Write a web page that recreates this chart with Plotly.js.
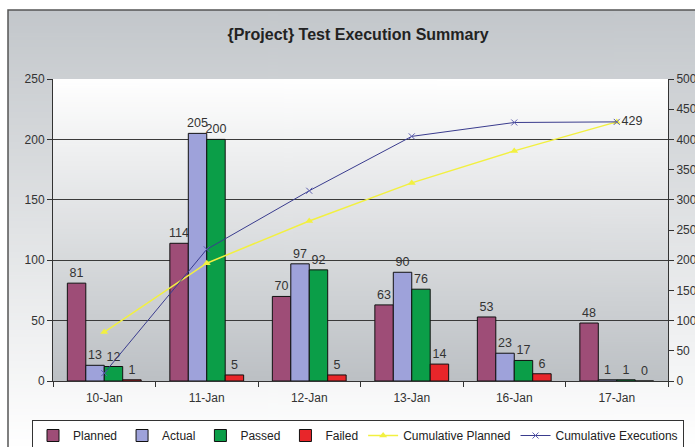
<!DOCTYPE html>
<html>
<head>
<meta charset="utf-8">
<script src="https://cdn.plot.ly/plotly-3.0.1.min.js"></script>
<style>html,body{margin:0;padding:0;background:#fff;}#chart{width:695px;height:447px;}</style>
</head>
<body>
<div id="chart"></div>
<script>
const categories = ['10-Jan','11-Jan','12-Jan','13-Jan','16-Jan','17-Jan'];
const planned = [81,114,70,63,53,48];
const actual = [13,205,97,90,23,1];
const passed = [12,200,92,76,17,1];
const failed = [1,5,5,14,6,0];
const cumulativePlanned = [81,195,265,328,381,429];
const cumulativeExecutions = [13,218,315,405,428,429];
const leftTicks = [0,50,100,150,200,250];
const rightTicks = [0,50,100,150,200,250,300,350,400,450,500];

function grad(c1, c2) {
  const cv = document.createElement('canvas');
  cv.width = 4; cv.height = 256;
  const ctx = cv.getContext('2d');
  const g = ctx.createLinearGradient(0, 0, 0, 256);
  g.addColorStop(0, c1); g.addColorStop(1, c2);
  ctx.fillStyle = g; ctx.fillRect(0, 0, 4, 256);
  return cv.toDataURL();
}

// pixel -> paper helpers (plot area: x 53..668, y 79..381)
const L = 53, R = 668, T = 79, B = 381;
const px = p => (p - L) / (R - L);
const py = p => (B - p) / (B - T);

const labelFont = {family: 'Liberation Sans, Arial, sans-serif', size: 12.5, color: '#333'};

function barTrace(name, vals, color) {
  return {
    type: 'bar', name: name, x: categories, y: vals,
    marker: {color: color, line: {color: '#111', width: 1}},
    text: vals.map(String), textposition: 'outside', constraintext: 'none',
    cliponaxis: false, textfont: labelFont,
    hoverinfo: 'skip'
  };
}

const data = [
  barTrace('Planned', planned, '#9e4d77'),
  barTrace('Actual', actual, '#9ea2da'),
  barTrace('Passed', passed, '#0b9e48'),
  barTrace('Failed', failed, '#e8262a'),
  {
    type: 'scatter', mode: 'lines+markers', name: 'Cumulative Planned',
    x: categories, y: cumulativePlanned, yaxis: 'y2',
    line: {color: '#f2f040', width: 1.5},
    marker: {symbol: 'triangle-up', size: 7, color: '#f2f040'},
    cliponaxis: false, hoverinfo: 'skip'
  },
  {
    type: 'scatter', mode: 'lines+markers+text', name: 'Cumulative Executions',
    x: categories, y: cumulativeExecutions, yaxis: 'y2',
    line: {color: '#3a3c8e', width: 1},
    marker: {symbol: 'x-thin', size: 6, line: {color: '#5a5cae', width: 1}},
    text: cumulativeExecutions.map((v, i) => i === cumulativeExecutions.length - 1 ? String(v) : ''),
    textposition: 'middle right', textfont: labelFont,
    cliponaxis: false, hoverinfo: 'skip'
  }
];

const font = {family: 'Liberation Sans, Arial, sans-serif', size: 12, color: '#333'};

const layout = {
  width: 695, height: 447,
  margin: {l: L, r: 695 - R, t: T, b: 447 - B, pad: 0, autoexpand: false},
  paper_bgcolor: '#ffffff',
  plot_bgcolor: 'rgba(0,0,0,0)',
  font: font,
  showlegend: true,
  title: {
    text: '<b>{Project} Test Execution Summary</b>',
    font: {family: 'Liberation Sans, Arial, sans-serif', size: 16, color: '#222'},
    x: 358 / 695, xanchor: 'center', y: 1 - 34 / 447, yanchor: 'middle'
  },
  barmode: 'group', bargap: 0.28, bargroupgap: 0,
  xaxis: {
    type: 'category', tickson: 'boundaries', ticks: 'outside', ticklen: 5,
    tickcolor: '#333', showline: true, linecolor: '#333', linewidth: 1,
    showgrid: false, zeroline: false, tickfont: font, fixedrange: true,
    ticklabelstandoff: 6
  },
  yaxis: {
    range: [0, 250], tickvals: leftTicks, ticks: 'outside', ticklen: 5,
    tickcolor: '#333', showline: true, linecolor: '#333', linewidth: 1,
    showgrid: true, gridcolor: '#3a3a3a', gridwidth: 1, zeroline: false,
    tickfont: font, fixedrange: true
  },
  yaxis2: {
    range: [0, 500], tickvals: rightTicks, overlaying: 'y', side: 'right',
    ticks: 'outside', ticklen: 5, tickcolor: '#333', showline: true,
    linecolor: '#333', linewidth: 1, showgrid: false, zeroline: false,
    tickfont: font, fixedrange: true
  },
  legend: {
    orientation: 'h', x: px(32), xanchor: 'left', y: py(420), yanchor: 'top',
    bgcolor: '#ffffff', bordercolor: '#333', borderwidth: 1,
    font: {family: 'Liberation Sans, Arial, sans-serif', size: 12, color: '#222'},
    itemwidth: 30, tracegroupgap: 0, traceorder: 'normal'
  },
  images: [
    {
      source: grad('#c3c7cb', '#ffffff'), xref: 'paper', yref: 'paper',
      x: px(8), y: py(10), sizex: px(700) - px(8), sizey: py(10) - py(447),
      sizing: 'stretch', xanchor: 'left', yanchor: 'top', layer: 'below'
    },
    {
      source: grad('#ffffff', '#bcc0c4'), xref: 'paper', yref: 'paper',
      x: 0, y: 1, sizex: 1, sizey: 1,
      sizing: 'stretch', xanchor: 'left', yanchor: 'top', layer: 'below'
    }
  ],
  shapes: [
    {
      type: 'rect', xref: 'paper', yref: 'paper',
      x0: px(8), x1: px(705), y0: py(460), y1: py(10),
      line: {color: '#555', width: 1.5}, fillcolor: 'rgba(0,0,0,0)', layer: 'above'
    }
  ]
};

Plotly.newPlot('chart', data, layout, {displayModeBar: false, staticPlot: true});
</script>
</body>
</html>
